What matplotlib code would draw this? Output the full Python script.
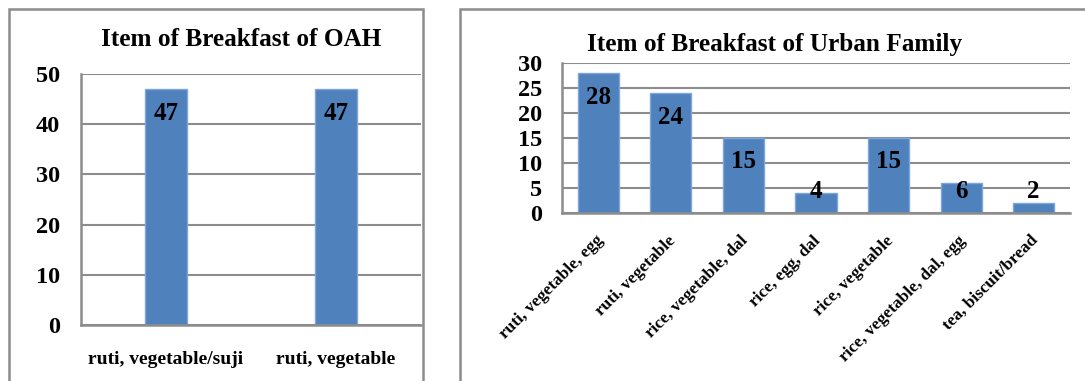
import matplotlib
matplotlib.use("Agg")
import matplotlib.pyplot as plt
from matplotlib.patches import Rectangle
from matplotlib.transforms import ScaledTranslation

# ---- data ----
oah_categories = ["ruti, vegetable/suji", "ruti, vegetable"]
oah_values = [47, 47]
oah_title = "Item of Breakfast of OAH"
oah_yticks = [0, 10, 20, 30, 40, 50]

urban_categories = ["ruti, vegetable, egg", "ruti, vegetable", "rice, vegetable, dal",
                    "rice, egg, dal", "rice, vegetable", "rice, vegetable, dal, egg",
                    "tea, biscuit/bread"]
urban_values = [28, 24, 15, 4, 15, 6, 2]
urban_title = "Item of Breakfast of Urban Family"
urban_yticks = [0, 5, 10, 15, 20, 25, 30]

W, H = 1085, 381
DPI = 100
BAR = "#4F81BD"
EDGE = "#7EA6DA"
GRID = "#8C8C8C"
FONT = "Liberation Serif"

plt.rcParams["font.family"] = [FONT, "DejaVu Serif"]
plt.rcParams["font.weight"] = "bold"

fig = plt.figure(figsize=(W / DPI, H / DPI), dpi=DPI)


def fx(px):
    return px / W


def fy(py):
    return 1 - py / H


# panel borders
fig.patches.append(Rectangle((fx(9), fy(395)), fx(423 - 9), (395 - 9) / H,
                             transform=fig.transFigure, fill=False,
                             edgecolor=GRID, linewidth=1.8))
fig.patches.append(Rectangle((fx(460), fy(395)), fx(1100 - 460), (395 - 9) / H,
                             transform=fig.transFigure, fill=False,
                             edgecolor=GRID, linewidth=1.8))


def style_axes(ax, yticks):
    ax.set_ylim(yticks[0], yticks[-1])
    ax.set_yticks(yticks)
    ax.yaxis.grid(True, color=GRID, linewidth=1.5)
    ax.set_axisbelow(True)
    for s in ("top", "right"):
        ax.spines[s].set_visible(False)
    for s in ("left", "bottom"):
        ax.spines[s].set_color(GRID)
        ax.spines[s].set_linewidth(1.8)
    ax.tick_params(axis="both", length=0)


def labels(ax, xs, vals, px_per_unit):
    for x, v in zip(xs, vals):
        y = max(v - 24 / px_per_unit, 22 / px_per_unit)
        ax.text(x, y, str(v), ha="center", va="center", fontsize=18,
                fontweight="bold", color="black", family=FONT)


# ---- left chart ----
ax1 = fig.add_axes([fx(81), fy(325), fx(421 - 81), (325 - 74) / H])
x1 = list(range(len(oah_categories)))
ax1.bar(x1, oah_values, width=0.25, color=BAR, edgecolor=EDGE, linewidth=1)
ax1.set_xlim(-0.5, len(oah_categories) - 0.5)
style_axes(ax1, oah_yticks)
ax1.set_xticks(x1)
ax1.set_xticklabels(oah_categories, fontsize=14, fontweight="bold")
ax1.tick_params(axis="x", pad=19)
ax1.tick_params(axis="y", pad=15, labelsize=17.5)
for t in ax1.get_yticklabels():
    t.set_fontweight("bold")
labels(ax1, x1, oah_values, (325 - 74) / 50)
fig.text(fx(241.5), fy(40), oah_title, ha="center", va="center",
         fontsize=18.2, fontweight="bold", family=FONT)

# ---- right chart ----
ax2 = fig.add_axes([fx(562), fy(213), fx(1070 - 562), (213 - 63) / H])
x2 = list(range(len(urban_categories)))
ax2.bar(x2, urban_values, width=0.565, color=BAR, edgecolor=EDGE, linewidth=1)
ax2.set_xlim(-0.5, len(urban_categories) - 0.5)
style_axes(ax2, urban_yticks)
ax2.set_xticks(x2)
ax2.set_xticklabels(urban_categories, fontsize=12.4, fontweight="bold",
                    rotation=45, ha="right", va="top")
ax2.tick_params(axis="x", pad=14)
shift = ScaledTranslation(8 / DPI, 0, fig.dpi_scale_trans)
for t in ax2.get_xticklabels():
    t.set_transform(t.get_transform() + shift)
ax2.tick_params(axis="y", pad=14, labelsize=17.5)
for t in ax2.get_yticklabels():
    t.set_fontweight("bold")
labels(ax2, x2, urban_values, (213 - 63) / 30)
fig.text(fx(774.5), fy(44), urban_title, ha="center", va="center",
         fontsize=18.2, fontweight="bold", family=FONT)

fig.savefig("out.png", dpi=DPI)
